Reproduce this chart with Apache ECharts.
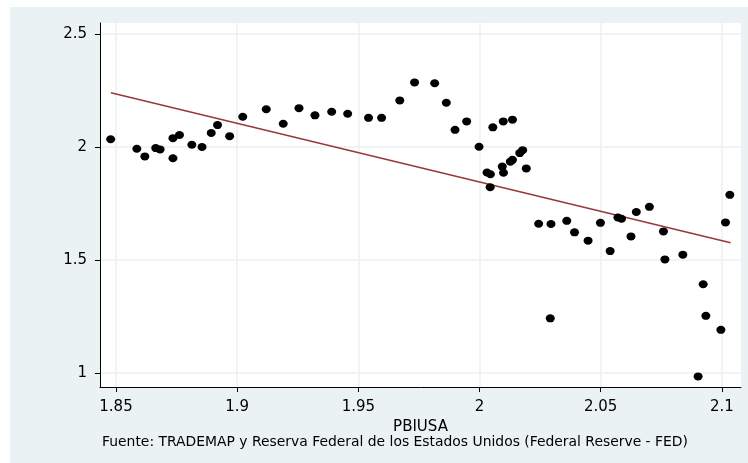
<!DOCTYPE html>
<html>
<head>
<meta charset="utf-8">
<title>PBIUSA</title>
<script src="https://cdn.jsdelivr.net/npm/echarts@6/dist/echarts.min.js"></script>
<style>
  html, body { margin: 0; padding: 0; background: #ffffff; }
  #chart { width: 748px; height: 463px; }
</style>
</head>
<body>
<div id="chart"></div>
<script>
// Observations: PBIUSA (x) and the paired y value
const pbiusa = [
  1.8478, 1.8586, 1.8619, 1.8664, 1.8682, 1.8735, 1.8762, 1.8735, 1.8813, 1.8855,
  1.8893, 1.8919, 1.8969, 1.9023, 1.9120, 1.9190, 1.9255, 1.9321, 1.9390, 1.9456,
  1.9542, 1.9596, 1.9671, 1.9732, 1.9815, 1.9863, 1.9899, 1.9947, 1.9998, 2.0031,
  2.0045, 2.0044, 2.0055, 2.0094, 2.0099, 2.0098, 2.0127, 2.0136, 2.0136, 2.0166,
  2.0178, 2.0193, 2.0244, 2.0295, 2.0292, 2.0360, 2.0392, 2.0448, 2.0499, 2.0539,
  2.0571, 2.0586, 2.0625, 2.0647, 2.0701, 2.0759, 2.0765, 2.0839, 2.0902, 2.0923,
  2.0934, 2.0996, 2.1015, 2.1033
];
const valores = [
  2.034, 1.992, 1.958, 1.995, 1.989, 2.039, 2.053, 1.950, 2.010, 2.000,
  2.062, 2.097, 2.048, 2.134, 2.167, 2.103, 2.172, 2.140, 2.156, 2.147,
  2.129, 2.129, 2.206, 2.286, 2.282, 2.196, 2.076, 2.113, 2.001, 1.887,
  1.879, 1.822, 2.087, 1.913, 1.886, 2.113, 1.935, 1.943, 2.121, 1.973,
  1.986, 1.905, 1.660, 1.659, 1.241, 1.673, 1.622, 1.585, 1.664, 1.539,
  1.688, 1.682, 1.604, 1.712, 1.735, 1.626, 1.502, 1.523, 0.984, 1.392,
  1.252, 1.190, 1.666, 1.788
];

// Fitted values at both ends of the PBIUSA range
const ajusteX = [1.8479, 2.1036];
const ajusteY = [2.240, 1.576];

// Tick positions and labels
const ticksX = [1.85, 1.9, 1.95, 2, 2.05, 2.1];
const ticksY = [1, 1.5, 2, 2.5];

const puntos = pbiusa.map((x, i) => [x, valores[i]]);
const recta = ajusteX.map((x, i) => [x, ajusteY[i]]);

const fuente = 'DejaVu Sans';
const fondo = '#eaf2f3';

const chart = echarts.init(document.getElementById('chart'), null, { renderer: 'canvas' });

chart.setOption({
  animation: false,
  backgroundColor: '#ffffff',
  graphic: [{
    type: 'rect',
    z: -10,
    silent: true,
    shape: { x: 10, y: 7, width: 738, height: 456 },
    style: { fill: fondo }
  }],
  title: {
    text: 'Fuente: TRADEMAP y Reserva Federal de los Estados Unidos (Federal Reserve - FED)',
    left: 102,
    top: 435,
    padding: 0,
    textStyle: { fontFamily: fuente, fontSize: 13.9, fontWeight: 'normal', color: '#000' }
  },
  grid: {
    left: 100, right: 7, top: 23, bottom: 76,
    show: true, backgroundColor: '#ffffff', borderWidth: 0
  },
  xAxis: {
    type: 'value',
    min: 1.8434, max: 2.1079,
    name: 'PBIUSA',
    nameLocation: 'middle',
    nameGap: 32,
    nameTextStyle: { fontFamily: fuente, fontSize: 15, color: '#000' },
    axisLine: { show: true, onZero: false, lineStyle: { color: '#000', width: 1 } },
    axisTick: { show: true, inside: false, length: 5, customValues: ticksX, lineStyle: { color: '#000' } },
    axisLabel: {
      customValues: ticksX,
      formatter: v => String(+v.toFixed(2)),
      fontFamily: fuente, fontSize: 15, color: '#000', margin: 13
    },
    splitLine: { show: true, lineStyle: { color: fondo, width: 1.5 } }
  },
  yAxis: {
    type: 'value',
    min: 0.937, max: 2.549,
    axisLine: { show: true, onZero: false, lineStyle: { color: '#000', width: 1 } },
    axisTick: { show: true, inside: false, length: 5, customValues: ticksY, lineStyle: { color: '#000' } },
    axisLabel: {
      customValues: ticksY,
      formatter: v => String(+v.toFixed(1)),
      fontFamily: fuente, fontSize: 15, color: '#000', margin: 13
    },
    splitLine: { show: true, lineStyle: { color: fondo, width: 1.5 } }
  },
  series: [
    {
      type: 'line',
      data: recta,
      symbol: 'none',
      lineStyle: { color: '#983838', width: 1.5 },
      z: 2
    },
    {
      type: 'scatter',
      data: puntos,
      symbol: 'circle',
      symbolSize: [9, 8],
      itemStyle: { color: '#000', opacity: 1 },
      z: 3
    }
  ]
});
</script>
</body>
</html>
